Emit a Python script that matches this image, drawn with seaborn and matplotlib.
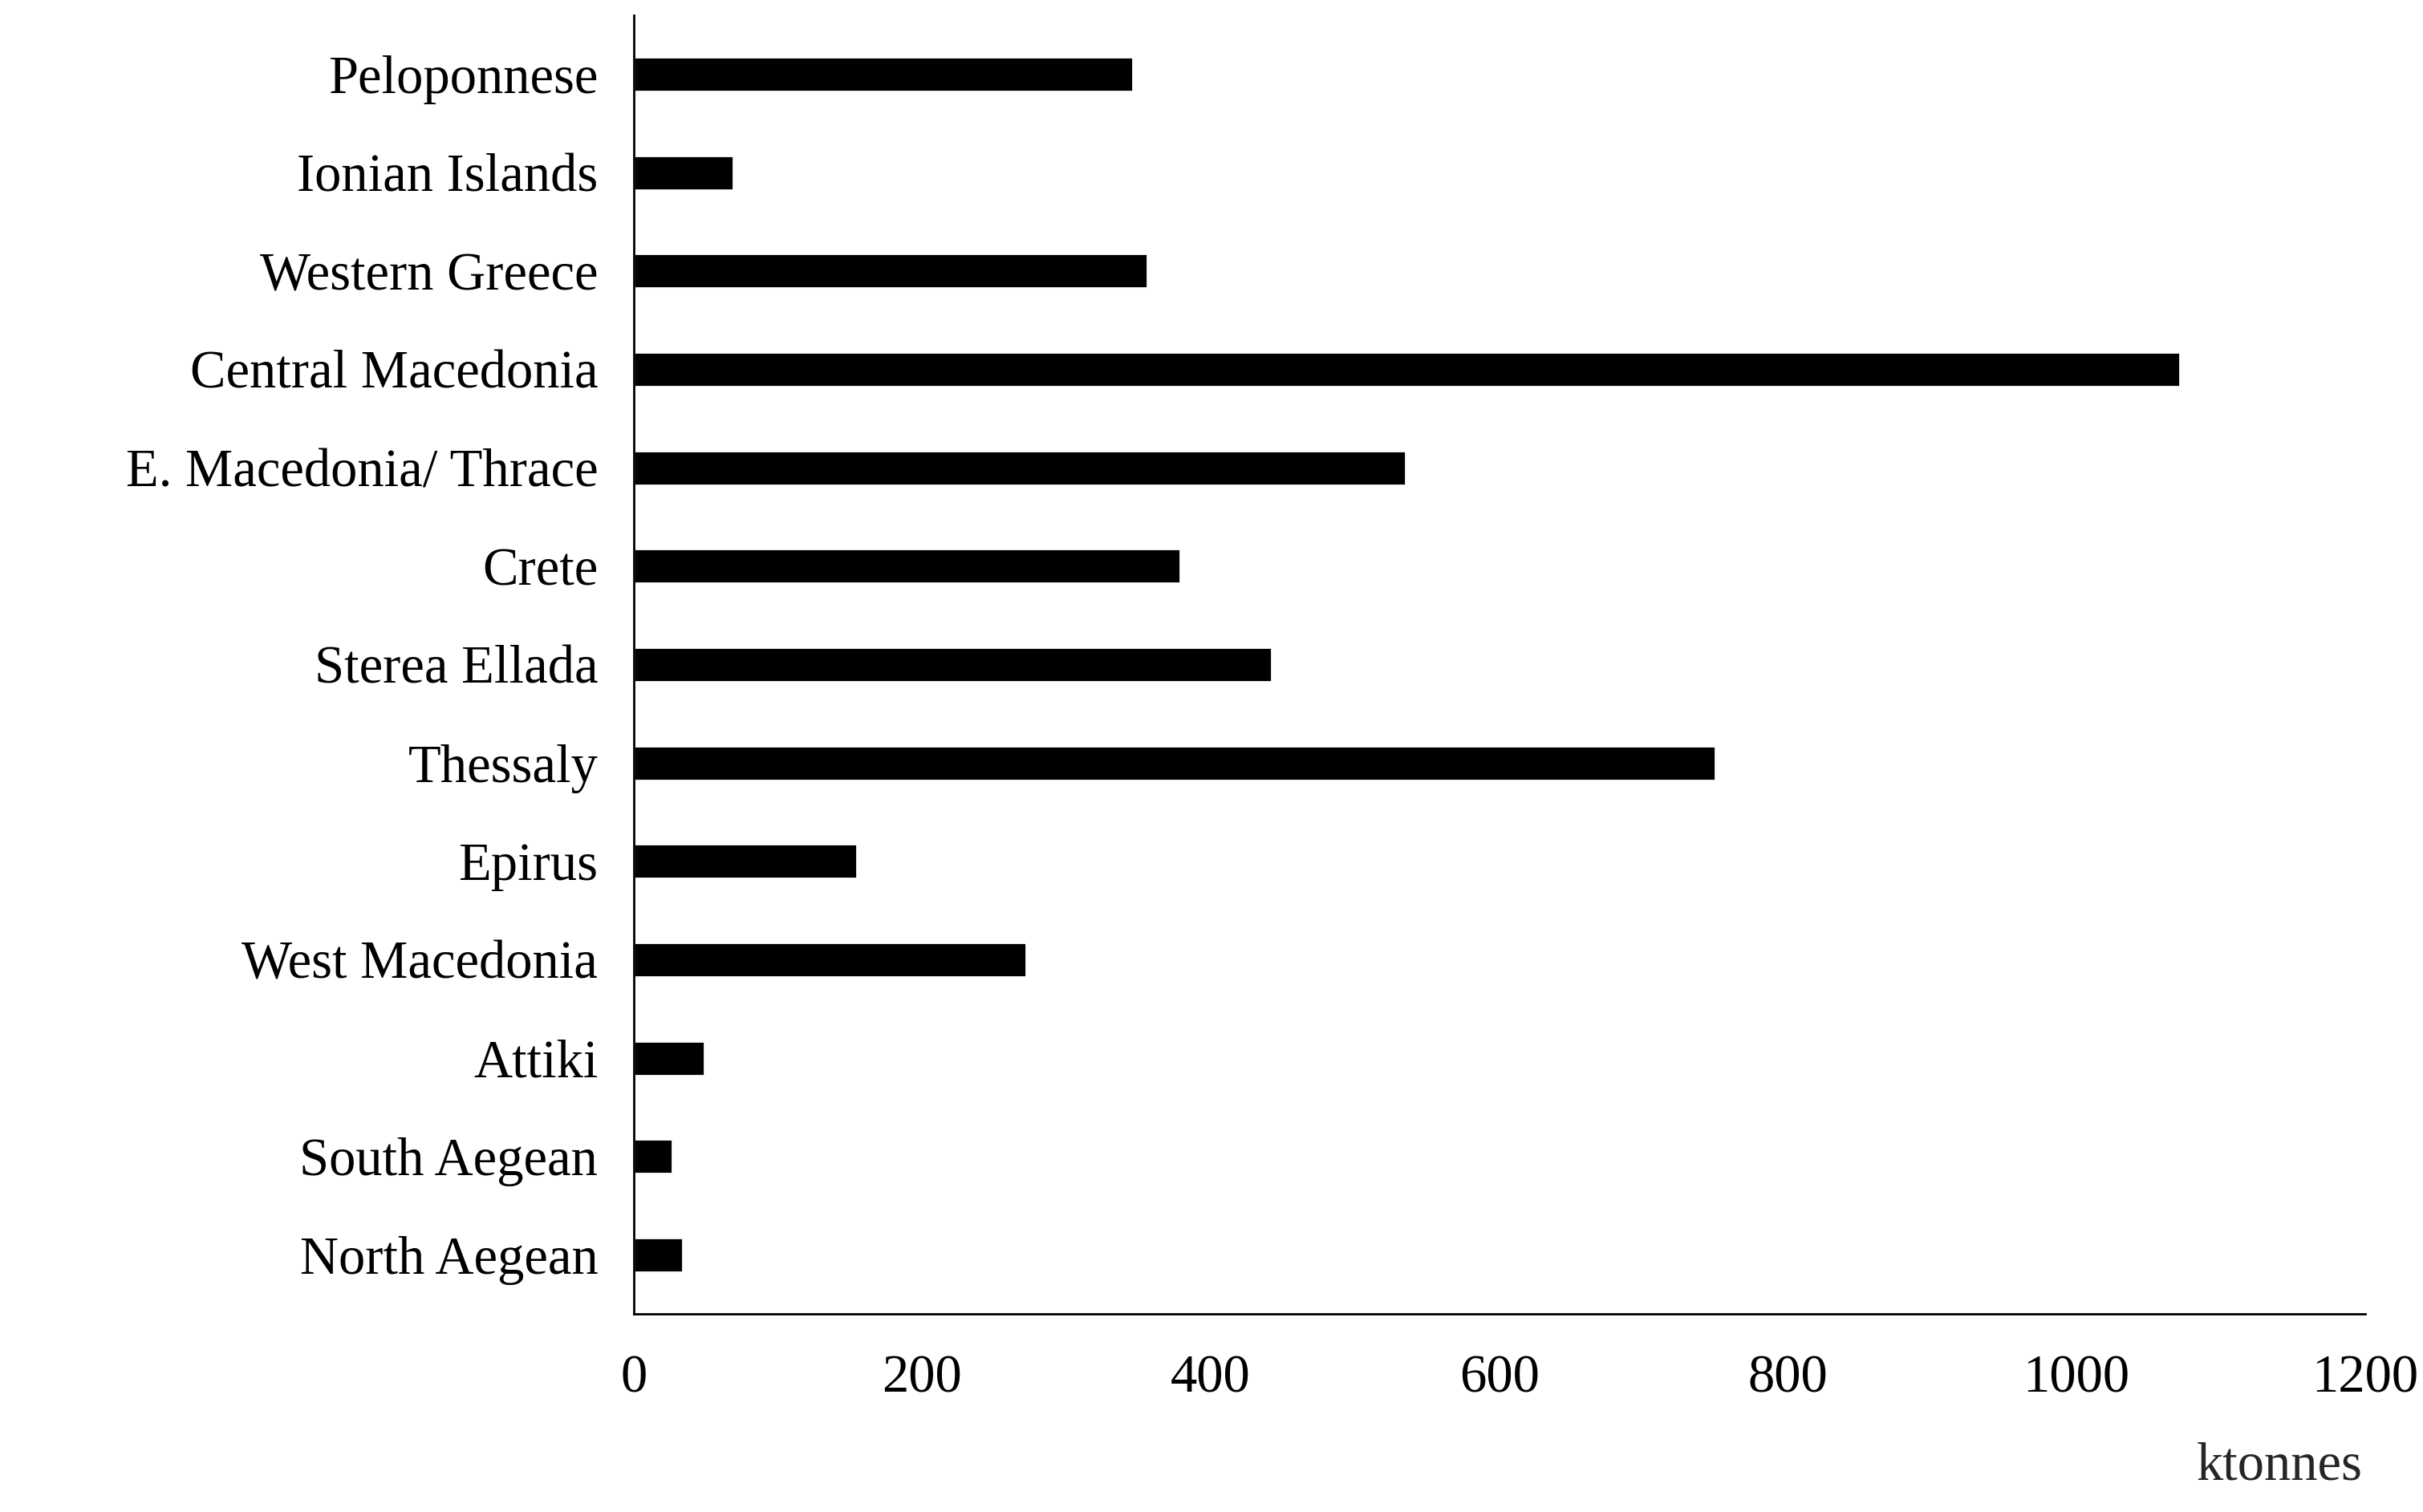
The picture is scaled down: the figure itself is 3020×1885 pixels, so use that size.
import matplotlib
matplotlib.use("Agg")
import matplotlib.pyplot as plt
import seaborn as sns
import pandas as pd

regions = ["Peloponnese", "Ionian Islands", "Western Greece", "Central Macedonia",
           "E. Macedonia/ Thrace", "Crete", "Sterea Ellada", "Thessaly", "Epirus",
           "West Macedonia", "Attiki", "South Aegean", "North Aegean"]
values = [346, 69, 356, 1072, 535, 379, 442, 750, 155, 272, 49, 27, 34]

sns.set_theme(style="white")
plt.rcParams['font.family'] = ['Liberation Serif', 'DejaVu Serif']

df = pd.DataFrame({"region": regions, "value": values})
fig = plt.figure(figsize=(15.1, 9.425), dpi=200)
ax = fig.add_axes([0.2615, 0.131, 0.7145, 0.859])
sns.barplot(data=df, x="value", y="region", color="black", width=0.35, ax=ax, orient="h")
ax.set_xlim(0, 1200)
ax.set_ylim(12.6, -0.6)
ax.set_xticks(range(0, 1201, 200))
ax.set_xlabel("")
ax.set_ylabel("")
ax.tick_params(axis="both", length=0, labelsize=24, colors="black")
ax.tick_params(axis="x", pad=18)
ax.tick_params(axis="y", pad=16)
for s in ["top", "right"]:
    ax.spines[s].set_visible(False)
for s in ["left", "bottom"]:
    ax.spines[s].set_color("black")
    ax.spines[s].set_linewidth(1.0)
fig.text(0.975, 0.03, "ktonnes", ha="right", va="center", fontsize=24)
fig.savefig("out.png", dpi=200, facecolor="white")
